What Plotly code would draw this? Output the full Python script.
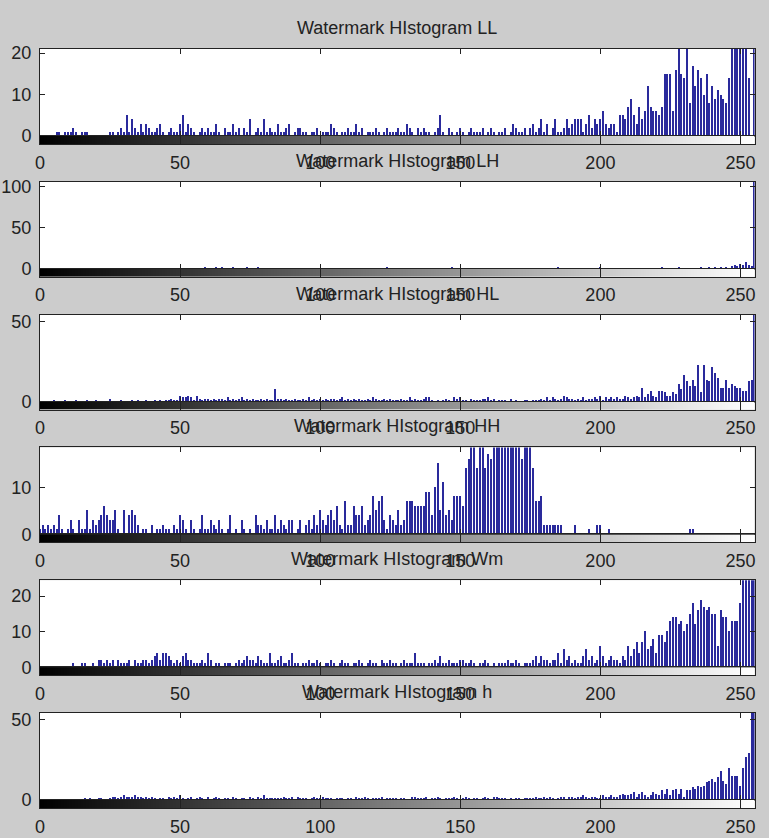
import plotly.graph_objects as go

# ---------------- data ----------------
levels = list(range(256))
xtick_vals = [0, 50, 100, 150, 200, 250]

titles = [
    "Watermark HIstogram LL",
    "Watermark HIstogram LH",
    "Watermark HIstogram HL",
    "Watermark HIstogram HH",
    "Watermark HIstogram Wm",
    "Watermark HIstogram h",
]

hist_ll = [
    0, 0, 0, 0, 0, 0, 1, 1, 0, 1, 1, 1, 2, 1, 0, 1,
    1, 1, 0, 0, 0, 0, 0, 0, 0, 1, 1, 0, 1, 2, 1, 5,
    1, 4, 2, 1, 3, 1, 3, 2, 1, 1, 2, 3, 1, 0, 1, 2,
    1, 1, 3, 5, 1, 3, 2, 1, 0, 1, 2, 1, 2, 1, 1, 3,
    1, 0, 2, 1, 1, 3, 1, 2, 0, 2, 1, 4, 0, 1, 2, 1,
    4, 1, 2, 1, 1, 3, 1, 1, 2, 3, 0, 1, 2, 2, 1, 1,
    0, 1, 1, 2, 0, 1, 1, 1, 3, 2, 1, 0, 1, 1, 2, 1,
    1, 3, 1, 2, 0, 1, 1, 1, 2, 1, 0, 1, 2, 1, 1, 1,
    2, 1, 1, 3, 2, 1, 0, 2, 1, 2, 1, 1, 0, 1, 2, 5,
    1, 0, 2, 1, 0, 1, 2, 1, 0, 1, 2, 1, 1, 1, 2, 0,
    1, 2, 1, 0, 1, 1, 2, 0, 1, 3, 2, 1, 1, 2, 0, 2,
    3, 1, 2, 4, 1, 3, 0, 2, 4, 1, 1, 2, 4, 2, 3, 4,
    4, 4, 1, 3, 5, 2, 4, 3, 4, 6, 3, 2, 3, 3, 1, 5,
    5, 4, 7, 9, 5, 3, 7, 4, 6, 12, 7, 6, 6, 5, 7, 15,
    15, 15, 6, 16, 25, 15, 14, 25, 8, 17, 12, 16, 14, 10, 15, 8,
    12, 9, 11, 10, 9, 8, 14, 25, 30, 28, 25, 30, 30, 14, 0, 30,
]

hist_lh = [
    0, 0, 0, 0, 0, 0, 0, 0, 0, 0, 0, 0, 0, 0, 0, 0,
    0, 0, 0, 0, 0, 0, 0, 0, 0, 0, 0, 0, 0, 0, 0, 0,
    0, 1, 0, 0, 0, 0, 0, 0, 0, 0, 0, 0, 0, 0, 0, 0,
    0, 0, 0, 0, 0, 0, 0, 0, 0, 1, 0, 2, 1, 0, 1, 2,
    1, 2, 1, 0, 1, 2, 1, 0, 1, 0, 2, 1, 0, 1, 2, 0,
    1, 0, 0, 0, 0, 0, 0, 0, 0, 0, 0, 0, 0, 0, 0, 0,
    0, 0, 0, 0, 1, 0, 1, 0, 1, 0, 0, 1, 0, 0, 1, 0,
    0, 1, 0, 1, 0, 0, 1, 0, 0, 1, 0, 0, 2, 0, 0, 1,
    0, 0, 0, 1, 0, 0, 0, 0, 0, 1, 0, 0, 1, 0, 0, 0,
    1, 0, 0, 2, 0, 1, 0, 0, 1, 0, 0, 0, 1, 0, 0, 0,
    1, 0, 0, 0, 1, 0, 0, 0, 1, 0, 0, 0, 1, 0, 0, 1,
    0, 0, 1, 0, 0, 1, 0, 0, 0, 2, 0, 0, 0, 0, 1, 0,
    0, 0, 0, 1, 0, 0, 0, 0, 2, 0, 0, 0, 0, 1, 0, 0,
    0, 0, 1, 0, 0, 0, 1, 0, 0, 0, 1, 0, 0, 0, 2, 0,
    0, 1, 0, 0, 2, 0, 0, 1, 0, 1, 0, 0, 2, 0, 0, 2,
    0, 3, 0, 2, 0, 3, 1, 4, 5, 4, 6, 5, 8, 5, 4, 120,
]

hist_hl = [
    0, 0, 0, 0, 0, 1, 0, 0, 0, 1, 0, 0, 0, 1, 0, 0,
    0, 1, 0, 0, 1, 0, 0, 0, 0, 2, 0, 0, 0, 1, 0, 0,
    0, 1, 0, 1, 0, 0, 1, 0, 0, 1, 0, 1, 0, 1, 1, 2,
    1, 1, 4, 3, 3, 4, 3, 1, 4, 2, 1, 2, 2, 1, 2, 1,
    2, 2, 1, 3, 1, 2, 1, 2, 3, 1, 2, 1, 2, 1, 1, 2,
    1, 2, 1, 1, 8, 2, 2, 1, 2, 1, 1, 2, 1, 1, 2, 1,
    3, 1, 2, 1, 2, 1, 2, 1, 2, 2, 1, 2, 3, 1, 2, 1,
    2, 1, 2, 1, 1, 2, 1, 3, 2, 1, 1, 2, 1, 2, 1, 1,
    1, 2, 1, 1, 3, 1, 2, 1, 1, 2, 3, 3, 1, 0, 1, 0,
    1, 2, 1, 0, 3, 2, 3, 1, 1, 0, 2, 1, 1, 1, 2, 2,
    3, 1, 2, 0, 1, 1, 1, 0, 2, 0, 1, 0, 0, 1, 1, 0,
    1, 1, 1, 2, 1, 3, 1, 3, 2, 1, 2, 4, 3, 2, 2, 1,
    2, 1, 3, 1, 2, 2, 3, 2, 4, 1, 3, 2, 3, 2, 3, 2,
    2, 4, 3, 2, 3, 4, 3, 9, 3, 5, 7, 4, 3, 7, 7, 6,
    4, 4, 6, 5, 11, 8, 17, 13, 10, 14, 10, 23, 6, 23, 14, 13,
    22, 18, 15, 9, 9, 14, 9, 11, 10, 9, 9, 7, 7, 13, 14, 60,
]

hist_hh = [
    1, 2, 1, 2, 1, 2, 1, 4, 1, 0, 1, 3, 1, 0, 3, 1,
    1, 5, 1, 3, 2, 3, 4, 6, 4, 3, 3, 5, 1, 0, 5, 0,
    4, 5, 4, 2, 0, 1, 1, 0, 2, 0, 1, 1, 2, 1, 1, 0,
    2, 1, 4, 3, 1, 0, 3, 1, 0, 1, 4, 1, 1, 3, 2, 1,
    3, 1, 0, 1, 4, 0, 1, 0, 3, 1, 0, 1, 0, 4, 2, 2,
    1, 3, 1, 1, 4, 1, 3, 2, 1, 3, 3, 0, 1, 3, 0, 2,
    3, 1, 4, 2, 5, 3, 2, 4, 5, 3, 6, 2, 1, 7, 2, 2,
    6, 4, 4, 6, 2, 3, 4, 8, 5, 7, 8, 3, 1, 4, 3, 2,
    5, 2, 3, 7, 7, 7, 6, 6, 6, 6, 9, 9, 4, 10, 15, 5,
    11, 4, 5, 3, 8, 8, 8, 6, 14, 16, 20, 20, 14, 20, 20, 14,
    17, 16, 20, 20, 20, 20, 20, 20, 20, 20, 20, 20, 16, 20, 20, 20,
    14, 7, 7, 8, 2, 2, 2, 2, 2, 2, 2, 0, 0, 0, 0, 2,
    0, 0, 0, 0, 1, 0, 0, 2, 2, 0, 0, 1, 0, 0, 0, 0,
    0, 0, 0, 0, 0, 0, 0, 0, 0, 0, 0, 0, 0, 0, 0, 0,
    0, 0, 0, 0, 0, 0, 0, 0, 1, 1, 0, 0, 0, 0, 0, 0,
    0, 0, 0, 0, 0, 0, 0, 0, 0, 0, 0, 0, 0, 0, 0, 0,
]

hist_wm = [
    0, 0, 0, 0, 0, 0, 0, 0, 0, 0, 0, 0, 1, 0, 0, 1,
    1, 0, 0, 1, 0, 2, 2, 1, 2, 1, 2, 0, 2, 1, 1, 1,
    2, 0, 2, 1, 1, 2, 2, 1, 2, 3, 4, 2, 4, 4, 3, 2,
    1, 2, 1, 3, 4, 2, 2, 1, 1, 1, 2, 1, 4, 2, 0, 1,
    1, 0, 1, 1, 1, 0, 1, 2, 1, 2, 3, 2, 2, 1, 3, 2,
    1, 1, 4, 1, 1, 2, 3, 1, 1, 2, 4, 1, 1, 0, 1, 1,
    2, 1, 1, 2, 1, 0, 1, 1, 2, 1, 0, 1, 2, 1, 1, 0,
    1, 1, 2, 1, 0, 1, 2, 1, 1, 0, 2, 1, 1, 2, 1, 1,
    0, 1, 2, 1, 1, 1, 4, 1, 1, 1, 0, 1, 1, 2, 1, 3,
    1, 1, 2, 1, 1, 1, 2, 2, 1, 1, 2, 1, 0, 1, 1, 2,
    1, 0, 1, 0, 1, 1, 1, 2, 1, 1, 2, 1, 0, 1, 1, 1,
    2, 3, 1, 3, 2, 2, 1, 2, 2, 4, 1, 5, 2, 3, 1, 2,
    1, 1, 3, 5, 2, 3, 1, 2, 6, 3, 1, 2, 3, 2, 2, 1,
    3, 2, 6, 3, 5, 7, 4, 7, 10, 5, 6, 8, 4, 9, 9, 7,
    10, 13, 14, 14, 12, 13, 10, 12, 15, 18, 12, 16, 19, 17, 16, 17,
    15, 15, 6, 16, 14, 14, 10, 13, 13, 13, 18, 30, 30, 30, 30, 30,
]

hist_h = [
    0, 0, 0, 0, 0, 0, 0, 0, 0, 0, 0, 0, 0, 0, 0, 0,
    1, 0, 1, 0, 0, 1, 1, 0, 0, 1, 2, 2, 1, 2, 3, 2,
    2, 2, 3, 2, 2, 1, 2, 1, 2, 1, 0, 1, 1, 0, 2, 1,
    2, 1, 3, 1, 0, 1, 2, 0, 1, 2, 1, 0, 2, 0, 1, 2,
    1, 0, 1, 1, 0, 2, 1, 0, 1, 1, 0, 2, 1, 0, 2, 1,
    3, 1, 1, 1, 1, 1, 1, 2, 1, 1, 2, 0, 2, 1, 1, 1,
    0, 1, 2, 1, 1, 2, 1, 1, 1, 0, 1, 1, 1, 0, 1, 1,
    0, 2, 1, 1, 2, 1, 0, 1, 1, 1, 2, 0, 1, 1, 1, 1,
    0, 1, 1, 0, 0, 2, 2, 1, 1, 1, 2, 0, 1, 1, 2, 1,
    0, 1, 1, 1, 2, 1, 0, 1, 2, 1, 0, 1, 1, 0, 1, 2,
    1, 0, 2, 2, 1, 1, 1, 0, 1, 0, 1, 1, 0, 1, 1, 1,
    1, 2, 1, 1, 2, 1, 2, 1, 0, 1, 2, 2, 0, 2, 2, 1,
    2, 2, 3, 2, 1, 2, 2, 1, 1, 3, 2, 2, 3, 2, 2, 3,
    4, 3, 3, 4, 5, 2, 4, 5, 3, 2, 3, 5, 4, 3, 6, 4,
    7, 3, 6, 7, 4, 7, 2, 6, 6, 8, 7, 9, 8, 9, 11, 12,
    13, 11, 14, 18, 12, 10, 20, 15, 15, 15, 9, 20, 27, 29, 60, 60,
]

histograms = [hist_ll, hist_lh, hist_hl, hist_hh, hist_wm, hist_h]
y_max = [21, 106, 54.4, 18.5, 24.5, 54]
y_ticks = [[0, 10, 20], [0, 50, 100], [0, 50], [0, 10], [0, 10, 20], [0, 50]]

# ---------------- layout helpers ----------------
W, H = 769, 838
X0, X1 = 40, 754.5
TOP0, STEP, HH, CBH = 49, 132.8, 87, 8
BG = "#cccccc"
INK = "#222222"
BAR = "#2a2a9c"
FONT = dict(family="Liberation Sans, Arial, sans-serif", size=18, color=INK)


def py(px):
    return 1 - px / H


fig = go.Figure()
layout = {}
annotations = []

for k in range(6):
    top = TOP0 + STEP * k
    ax_h = 2 * k + 1
    ax_c = 2 * k + 2
    xh, yh = f"x{ax_h}", f"y{ax_h}"
    xc, yc = f"x{ax_c}", f"y{ax_c}"

    fig.add_trace(go.Bar(
        x=levels, y=histograms[k], width=0.5,
        marker=dict(color=BAR, line=dict(width=0)),
        xaxis=xh, yaxis=yh, showlegend=False, hoverinfo="x+y",
    ))
    fig.add_trace(go.Heatmap(
        z=[levels], x=levels, y=[0], zmin=0, zmax=255,
        colorscale=[[0, "black"], [1, "white"]], showscale=False,
        xaxis=xc, yaxis=yc, hoverinfo="skip",
    ))

    dom_x = [X0 / W, X1 / W]
    layout[f"xaxis{ax_h}"] = dict(
        domain=dom_x, range=[0, 255], anchor=yh, tickvals=xtick_vals,
        ticks="inside", ticklen=5, tickcolor=INK, showticklabels=False,
        showline=True, linecolor=INK, linewidth=1, mirror="ticks",
        showgrid=False, zeroline=False, fixedrange=True, automargin=False,
    )
    layout[f"yaxis{ax_h}"] = dict(
        domain=[py(top + HH), py(top)], range=[0, y_max[k]], anchor=xh,
        tickvals=y_ticks[k], ticks="inside", ticklen=5, tickcolor=INK,
        showline=True, linecolor=INK, linewidth=1, mirror="ticks",
        showgrid=False, zeroline=False, tickfont=FONT, fixedrange=True,
        ticklabelstandoff=4, automargin=False,
    )
    layout[f"xaxis{ax_c}"] = dict(
        domain=dom_x, range=[0, 255], anchor=yc, tickvals=xtick_vals,
        ticks="inside", ticklen=CBH, tickcolor=INK, tickfont=FONT,
        showline=True, linecolor=INK, linewidth=1, mirror=True,
        showgrid=False, zeroline=False, fixedrange=True,
        ticklabelstandoff=2, automargin=False,
    )
    layout[f"yaxis{ax_c}"] = dict(
        domain=[py(top + HH + CBH), py(top + HH)], range=[-0.5, 0.5],
        anchor=xc, showticklabels=False, ticks="",
        showline=True, linecolor=INK, linewidth=1, mirror=True,
        showgrid=False, zeroline=False, fixedrange=True, automargin=False,
    )
    annotations.append(dict(
        text=titles[k], xref="paper", yref="paper",
        x=(X0 + X1) / 2 / W, y=py(top - 21), xanchor="center", yanchor="middle",
        showarrow=False, font=FONT,
    ))

fig.update_layout(
    width=W, height=H, margin=dict(l=0, r=0, t=0, b=0, autoexpand=False),
    paper_bgcolor=BG, plot_bgcolor="white",
    annotations=annotations, bargap=0, **layout,
)

fig.write_html(
    "out.html",
    config={"displayModeBar": False},
    post_script=(
        "document.body.style.margin='0';"
        "document.body.style.padding='0';"
        "document.body.style.overflow='hidden';"
        "document.body.style.background='#cccccc';"
    ),
)
